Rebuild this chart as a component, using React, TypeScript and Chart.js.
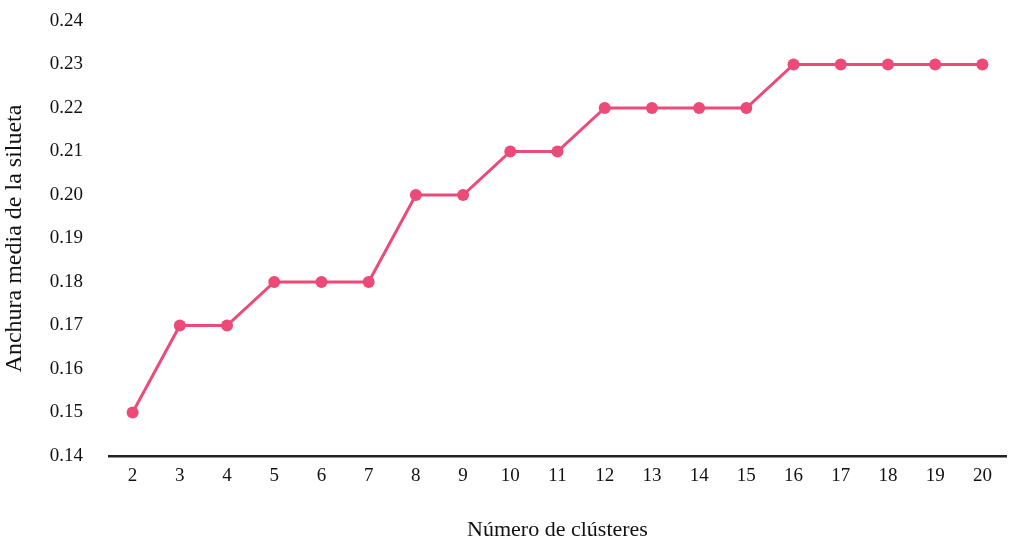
import React, { useEffect, useRef } from "react";
import { Chart, registerables } from "chart.js";

Chart.register(...registerables);

const clusters = ["2","3","4","5","6","7","8","9","10","11","12","13","14","15","16","17","18","19","20"];
const silhouette = [0.15,0.17,0.17,0.18,0.18,0.18,0.20,0.20,0.21,0.21,0.22,0.22,0.22,0.22,0.23,0.23,0.23,0.23,0.23];
const yTitle = "Anchura media de la silueta";
const xTitle = "Número de clústeres";

export default function App() {
  const ref = useRef<HTMLCanvasElement>(null);
  useEffect(() => {
    document.body.style.margin = "0";
    const fam = "'Liberation Serif', serif";
    const tickFont = { family: fam, size: 19 };
    const chart = new Chart(ref.current!, {
      type: "line",
      data: {
        labels: clusters,
        datasets: [{
          data: silhouette,
          borderColor: "#ec4a78",
          backgroundColor: "#ec4a78",
          borderWidth: 3,
          pointRadius: 6,
          pointBackgroundColor: "#ec4a78",
          pointBorderWidth: 0,
          tension: 0,
        }],
      },
      options: {
        animation: false,
        responsive: false,
        layout: { autoPadding: false, padding: { top: 21, right: 5, left: 0, bottom: 0 } },
        plugins: { legend: { display: false }, tooltip: { enabled: false } },
        scales: {
          x: {
            offset: true,
            grid: { display: false, drawTicks: false },
            border: { display: true, color: "#222", width: 2.5 },
            ticks: { color: "#111", font: tickFont, padding: 9, maxRotation: 0 },
            title: { display: true, text: xTitle, color: "#111", font: { family: fam, size: 22 }, padding: { top: 20, bottom: 2 } },
            afterFit: (s: any) => { s.height = 89; s.paddingLeft = 0; s.paddingRight = 0; },
          },
          y: {
            min: 0.14,
            max: 0.24,
            grid: { display: false, drawTicks: false },
            border: { display: false },
            ticks: { stepSize: 0.01, color: "#111", font: tickFont, padding: 26, callback: (v: any) => Number(v).toFixed(2) },
            title: { display: true, text: yTitle, color: "#111", font: { family: fam, size: 24 }, padding: { top: 0, bottom: 0 } },
            afterFit: (s: any) => { s.width = 109; s.paddingTop = 0; s.paddingBottom = 0; },
          },
        },
      },
    });
    return () => chart.destroy();
  }, []);
  return <canvas ref={ref} width={1011} height={545} style={{ display: "block" }} />;
}
